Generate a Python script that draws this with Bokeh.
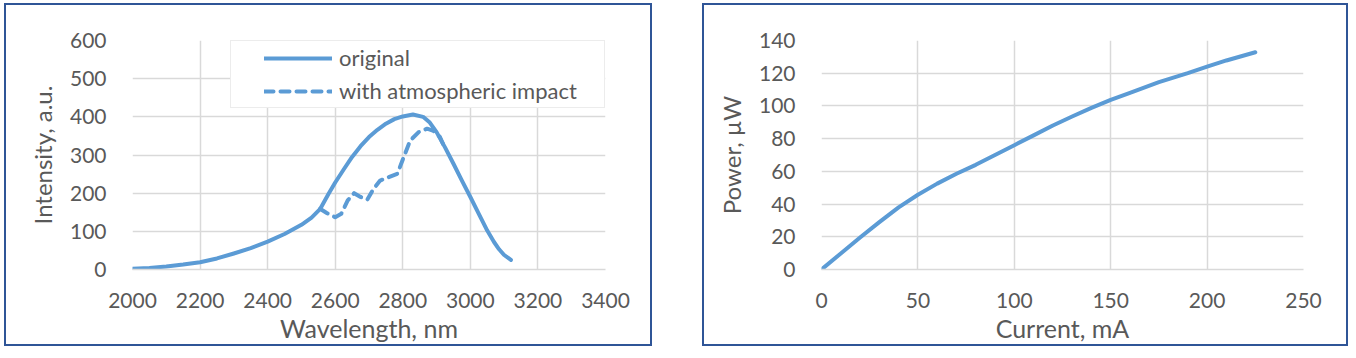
from bokeh.plotting import figure
from bokeh.models import Range1d, SingleIntervalTicker, Legend, LegendItem
from bokeh.layouts import row
from bokeh.embed import file_html
from bokeh.resources import INLINE

# ---- data: left chart (spectrum) ----
wavelength_orig = [2000, 2050, 2100, 2150, 2200, 2250, 2300, 2350, 2400, 2450, 2500, 2530, 2555,
                   2580, 2600, 2625, 2650, 2675, 2700, 2725, 2750, 2775, 2800, 2830, 2860, 2880,
                   2900, 2925, 2950, 2975, 3000, 3025, 3050, 3070, 3085, 3100, 3120]
intensity_orig = [2, 4, 8, 13, 19, 29, 42, 56, 73, 93, 117, 136, 158,
                  198, 228, 262, 295, 323, 347, 366, 382, 394, 401, 406, 400, 385,
                  360, 320, 277, 233, 190, 146, 102, 72, 53, 38, 25]

wavelength_atm = [2555, 2575, 2600, 2618, 2637, 2656, 2675, 2695, 2714, 2733, 2758, 2784,
                  2803, 2822, 2847, 2872, 2891, 2910, 2923]
intensity_atm = [159, 148, 137, 146, 181, 200, 190, 183, 212, 233, 242, 251,
                 295, 338, 360, 369, 363, 347, 321]

# ---- data: right chart (power vs current) ----
current = [0, 10, 20, 30, 40, 50, 60, 70, 80, 90, 100, 110, 120, 130, 140, 150,
           160, 175, 190, 200, 210, 225]
power = [0, 9.8, 19.6, 29, 38, 45.7, 52.5, 58.5, 64, 70, 76, 82, 88, 93.5, 98.8, 103.7,
         108, 114.5, 120, 124, 127.8, 132.8]

LINE = "#5B9BD5"
GRID = "#D9D9D9"
TEXT = "#595959"
BORDER = "#2F5597"
FONT = "Lato"


def style(p, xint, yint):
    p.xaxis.ticker = SingleIntervalTicker(interval=xint)
    p.yaxis.ticker = SingleIntervalTicker(interval=yint)
    for g in (p.xgrid, p.ygrid):
        g.grid_line_color = GRID
        g.grid_line_width = 1.5
    p.outline_line_color = None
    for ax in (p.xaxis, p.yaxis):
        ax.major_tick_line_color = None
        ax.minor_tick_line_color = None
        ax.major_label_text_font = FONT
        ax.major_label_text_font_size = "21px"
        ax.major_label_text_color = TEXT
        ax.axis_label_text_font = FONT
        ax.axis_label_text_color = TEXT
        ax.axis_label_text_font_style = "normal"
    p.xaxis.axis_label_text_font_size = "25px"
    p.yaxis.axis_label_text_font_size = "24px"
    p.xaxis.axis_line_color = GRID
    p.xaxis.axis_line_width = 1.5
    p.yaxis.axis_line_color = None
    p.xaxis.major_label_standoff = 17
    p.yaxis.major_label_standoff = 20
    p.xaxis.axis_label_standoff = 2
    p.yaxis.axis_label_standoff = 10
    p.styles = {"border": f"2px solid {BORDER}"}


p1 = figure(width=648, height=343, output_backend="svg", toolbar_location=None,
            x_range=Range1d(2000, 3400), y_range=Range1d(0, 600),
            min_border_left=126, min_border_right=49, min_border_top=35, min_border_bottom=79)
style(p1, 200, 100)
p1.xaxis.axis_label = "Wavelength, nm"
p1.yaxis.axis_label = "Intensity, a.u."

r_orig = p1.line(wavelength_orig, intensity_orig, line_color=LINE, line_width=4,
                 line_join="round", line_cap="round")
r_atm = p1.line(wavelength_atm, intensity_atm, line_color=LINE, line_width=4,
                line_dash="9 7", line_join="round", line_cap="round")

legend = Legend(items=[LegendItem(label="original", renderers=[r_orig]),
                       LegendItem(label="with atmospheric impact", renderers=[r_atm])],
                location="top_right", margin=0, padding=3, spacing=6,
                glyph_width=68, glyph_height=22, label_height=22, label_standoff=7,
                label_width=262,
                title=" ", title_location="left", title_text_font_size="12px",
                title_standoff=16,
                label_text_font=FONT, label_text_font_size="22px", label_text_color=TEXT,
                border_line_color=GRID, border_line_width=1.5,
                background_fill_color="white", background_fill_alpha=1.0)
p1.add_layout(legend)

p2 = figure(width=646, height=343, output_backend="svg", toolbar_location=None,
            x_range=Range1d(0, 250), y_range=Range1d(0, 140),
            min_border_left=117, min_border_right=47, min_border_top=30, min_border_bottom=76)
style(p2, 50, 20)
p2.xaxis.axis_label = "Current, mA"
p2.yaxis.axis_label = "Power, µW"
p2.line(current, power, line_color=LINE, line_width=4, line_join="round", line_cap="round")

layout = row(p1, p2, spacing=50)
layout.styles = {"margin-left": "4px", "margin-top": "3px"}

open("out.html", "w").write(file_html(layout, INLINE))
